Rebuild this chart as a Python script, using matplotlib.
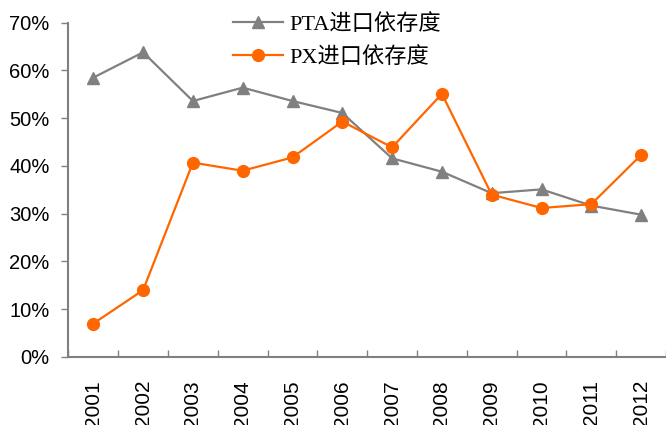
import numpy as np
import matplotlib.pyplot as plt
from matplotlib.ticker import FixedLocator, FuncFormatter

years = ["2001", "2002", "2003", "2004", "2005", "2006",
         "2007", "2008", "2009", "2010", "2011", "2012"]
pta = [58.5, 63.8, 53.6, 56.4, 53.6, 51.1, 41.6, 38.8, 34.3, 35.1, 31.7, 29.8]
px = [7.0, 14.0, 40.7, 39.0, 41.8, 49.3, 43.9, 55.1, 34.0, 31.2, 32.0, 42.3]
labels = ["PTA进口依存度", "PX进口依存度"]

GRAY = "#808080"
ORANGE = "#FF6600"

fig = plt.figure(figsize=(6.66, 4.25), dpi=100)
ax = fig.add_axes([68.4 / 666, 1 - 357 / 425, 1 - 68.4 / 666, (357 - 22.7) / 425])

x = np.arange(len(years))
ax.plot(x, pta, color=GRAY, lw=1.6, marker="^", ms=9, label=labels[0])
ax.plot(x, px, color=ORANGE, lw=1.6, marker="o", ms=8.5, label=labels[1])

ax.set_xlim(-0.5, len(years) - 0.5)
ax.set_ylim(0, 70)
ax.set_yticks(np.arange(0, 71, 10))
ax.yaxis.set_major_formatter(FuncFormatter(lambda v, p: f"{v:.0f}%"))

ax.set_xticks(x)
ax.set_xticklabels(years, rotation=90, fontsize=15, family="Liberation Sans")
ax.tick_params(axis="x", which="major", length=0, pad=16.5)
ax.xaxis.set_minor_locator(FixedLocator(np.arange(-0.5, len(years), 1.0)))
ax.tick_params(axis="x", which="minor", direction="in", length=5, color=GRAY, width=1)
ax.tick_params(axis="y", direction="out", length=5, color=GRAY, width=1, pad=8.5)
for t in ax.get_yticklabels():
    t.set_fontsize(14.5)
    t.set_family("Liberation Sans")

for s in ["top", "right"]:
    ax.spines[s].set_visible(False)
for s in ["left", "bottom"]:
    ax.spines[s].set_color(GRAY)
    ax.spines[s].set_linewidth(1.5)

ax.legend(loc="upper left", bbox_to_anchor=(233 / 666, 1 - 14 / 425),
          bbox_transform=fig.transFigure, frameon=False, borderpad=0,
          borderaxespad=0, handlelength=2.25, handletextpad=0.3,
          labelspacing=0.55,
          prop={"family": ["Liberation Serif", "Noto Sans CJK SC"], "size": 16})

fig.savefig("out.png", dpi=100)
